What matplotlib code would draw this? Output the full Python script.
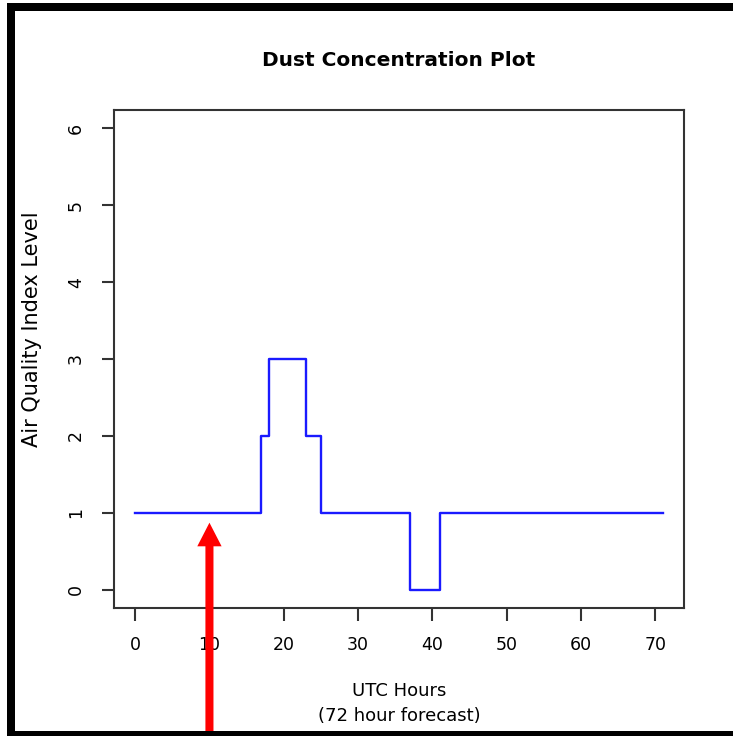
import matplotlib
matplotlib.use("Agg")
import matplotlib.pyplot as plt
from matplotlib.patches import Rectangle
import numpy as np

hours = list(range(72))
aqi = ([1] * 17 + [2] + [3] * 5 + [2] * 2 + [1] * 12 + [0] * 4 + [1] * 31)
xticks = [0, 10, 20, 30, 40, 50, 60, 70]
yticks = [0, 1, 2, 3, 4, 5, 6]
title = "Dust Concentration Plot"
xlabel_lines = ["UTC Hours", "(72 hour forecast)"]
ylabel = "Air Quality Index Level"
arrow_hour = 10

plt.rcParams['font.family'] = ['DejaVu Sans']
W, H = 733, 736
fig = plt.figure(figsize=(W / 100, H / 100), dpi=100)
fig.patch.set_facecolor('white')

ax = fig.add_axes([114 / W, 1 - 608 / H, 570 / W, 498 / H])
ax.step(hours, aqi, where='post', color='#1a1aff', lw=1.7)
ax.set_xlim(-2.84, 73.84)
ax.set_ylim(-0.24, 6.24)
ax.set_xticks(xticks)
ax.set_yticks(yticks)
for s in ax.spines.values():
    s.set_color('#333333')
    s.set_linewidth(1.5)
ax.tick_params(axis='both', direction='out', length=9, width=1.5, color='#333333',
               labelsize=12.5)
ax.tick_params(axis='x', pad=11)
ax.tick_params(axis='y', pad=12)
for lab in ax.get_yticklabels():
    lab.set_rotation(90)
    lab.set_va('center')

fig.text(399 / W, 1 - 60 / H, title, ha='center', va='center', fontsize=14.5,
         fontweight='bold')
fig.text(399 / W, 1 - 691 / H, xlabel_lines[0], ha='center', va='center', fontsize=13)
fig.text(399 / W, 1 - 716 / H, xlabel_lines[1], ha='center', va='center', fontsize=13)
fig.text(32 / W, 1 - 329 / H, ylabel, ha='center', va='center', fontsize=15,
         rotation=90)

# red arrow annotation
ax.annotate('', xy=(arrow_hour, 0.87), xycoords='data',
            xytext=(arrow_hour, -0.01), textcoords=('data', 'figure fraction'),
            arrowprops=dict(width=5.8, headwidth=17.5, headlength=17, shrink=0,
                            facecolor='red', edgecolor='red', lw=0),
            annotation_clip=False)

# black frame pieces
fig.patches.append(Rectangle((7 / W, 0), 8 / W, 1 - 3 / H, transform=fig.transFigure,
                             facecolor='black', edgecolor='none', zorder=10))
fig.patches.append(Rectangle((7 / W, 1 - 11 / H), 1 - 7 / W, 8 / H, transform=fig.transFigure,
                             facecolor='black', edgecolor='none', zorder=10))
fig.patches.append(Rectangle((7 / W, 0), 1 - 7 / W, 5 / H, transform=fig.transFigure,
                             facecolor='black', edgecolor='none', zorder=10))

fig.savefig('out.png', dpi=100)
